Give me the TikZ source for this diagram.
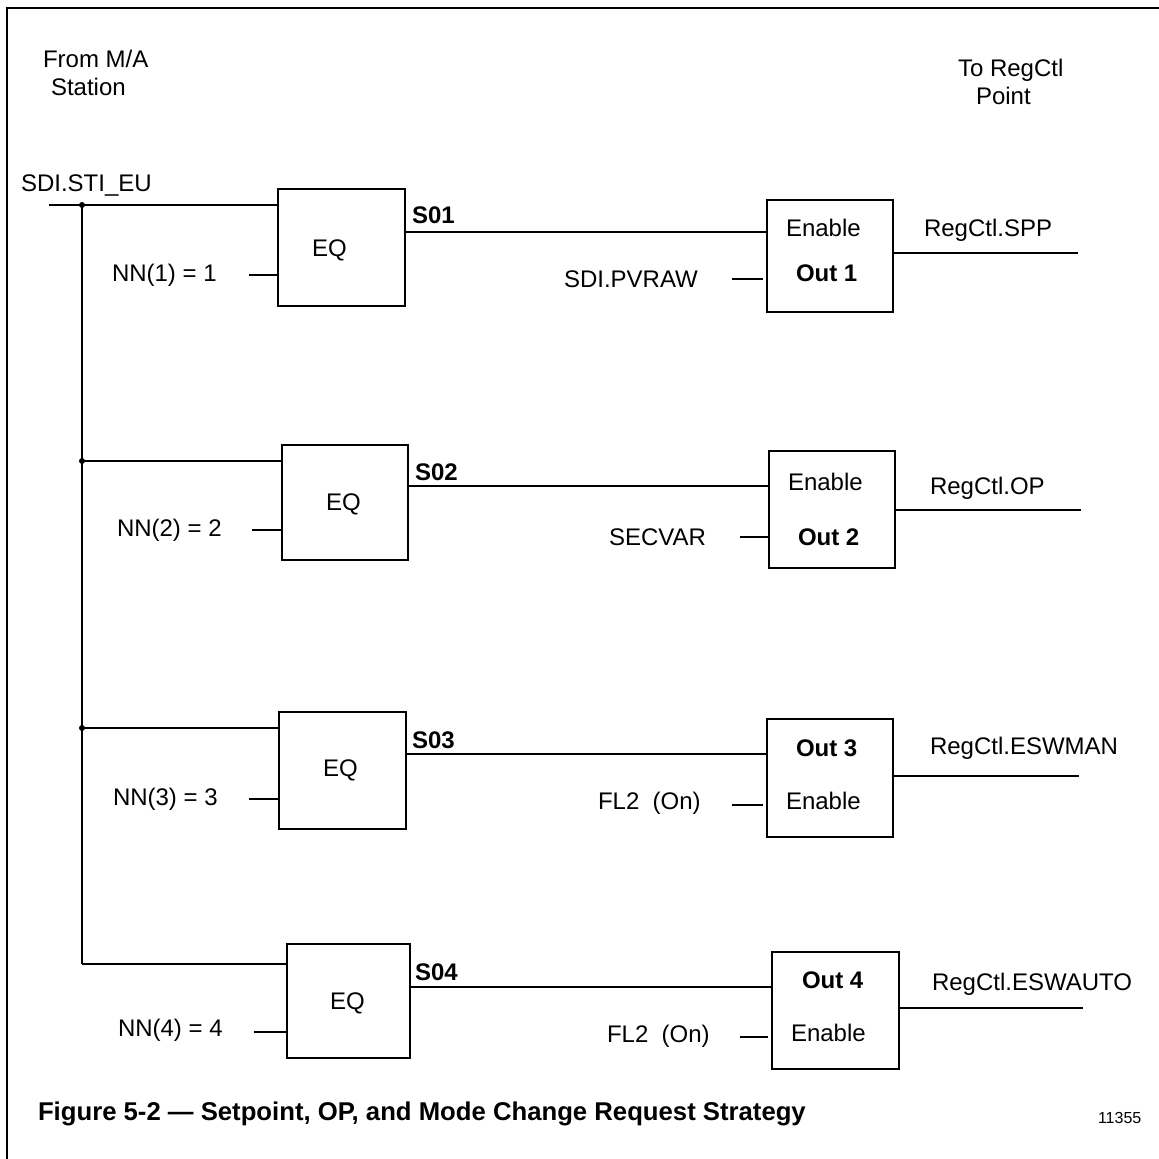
\documentclass[tikz,border=0pt]{standalone}
\usepackage{fontspec}
\setmainfont{Liberation Sans}
\begin{document}
\begin{tikzpicture}[x=1pt,y=-1pt,
  lbl/.style={font=\fontsize{24}{28}\selectfont, anchor=base west, inner sep=0pt, outer sep=0pt},
  blbl/.style={lbl, font=\fontsize{24}{28}\selectfont\bfseries},
  blk/.style={draw, line width=2.5pt, anchor=north west, inner sep=0pt, outer sep=0pt},
  wire/.style={line width=2.5pt},
  frame/.style={line width=2pt}
]
\useasboundingbox (0,0) rectangle (1159,1159);
% frame
\coordinate (fr1) at (1159,8);
\coordinate (fr2) at (7,8);
\coordinate (fr3) at (7,1159);
\draw[frame] (fr1) -- (fr2) -- (fr3);

% header texts
\node[lbl] (from) at (43,67) {From M/A};
\node[lbl] (station) at (51,95) {Station};
\node[lbl] (to) at (958,76) {To RegCtl};
\node[lbl] (point) at (976,104) {Point};
\node[lbl] (sdi) at (21,191) {SDI.STI\_EU};

% blocks
\node[blk, minimum width=127pt, minimum height=117pt] (eq1) at (278,189) {};
\node[blk, minimum width=126pt, minimum height=112pt] (out1) at (767,200) {};
\node[blk, minimum width=126pt, minimum height=115pt] (eq2) at (282,445) {};
\node[blk, minimum width=126pt, minimum height=117pt] (out2) at (769,451) {};
\node[blk, minimum width=127pt, minimum height=117pt] (eq3) at (279,712) {};
\node[blk, minimum width=126pt, minimum height=118pt] (out3) at (767,719) {};
\node[blk, minimum width=123pt, minimum height=114pt] (eq4) at (287,944) {};
\node[blk, minimum width=127pt, minimum height=117pt] (out4) at (772,952) {};

% bus
\coordinate (s0) at (49,205);
\coordinate (j1) at (82,205);
\coordinate (j2) at (82,461);
\coordinate (j3) at (82,728);
\coordinate (j4) at (82,964);
\draw[wire] (s0) -- (s0 -| eq1.west);
\draw[wire] (j1) -- (j4);
\draw[wire] (j2) -- (j2 -| eq2.west);
\draw[wire] (j3) -- (j3 -| eq3.west);
\draw[wire] (j4) -- (j4 -| eq4.west);
\fill (j1) circle (3pt);
\fill (j2) circle (3pt);
\fill (j3) circle (3pt);

% row 1
\coordinate (n1) at (249,275);
\draw[wire] (n1) -- (n1 -| eq1.west);
\coordinate (a1) at (0,232);
\draw[wire] (a1 -| eq1.east) -- (a1 -| out1.west);
\coordinate (i1) at (732,279);
\draw[wire] (i1) -- ([xshift=-4pt]i1 -| out1.west);
\coordinate (o1) at (1078,253);
\draw[wire] (o1 -| out1.east) -- (o1);
\node[lbl] (nn1) at (112,281) {NN(1) = 1};
\node[lbl] (eqt1) at (312,256) {EQ};
\node[blbl] (s01) at (412,223) {S01};
\node[lbl] (pv) at (564,287) {SDI.PVRAW};
\node[lbl] (en1) at (786,236) {Enable};
\node[blbl] (ot1) at (796,281) {Out 1};
\node[lbl] (rg1) at (924,236) {RegCtl.SPP};

% row 2
\coordinate (n2) at (252,530);
\draw[wire] (n2) -- (n2 -| eq2.west);
\coordinate (a2) at (0,486);
\draw[wire] (a2 -| eq2.east) -- (a2 -| out2.west);
\coordinate (i2) at (740,537);
\draw[wire] (i2) -- (i2 -| out2.west);
\coordinate (o2) at (1081,510);
\draw[wire] (o2 -| out2.east) -- (o2);
\node[lbl] (nn2) at (117,536) {NN(2) = 2};
\node[lbl] (eqt2) at (326,510) {EQ};
\node[blbl] (s02) at (415,480) {S02};
\node[lbl] (sec) at (609,545) {SECVAR};
\node[lbl] (en2) at (788,490) {Enable};
\node[blbl] (ot2) at (798,545) {Out 2};
\node[lbl] (rg2) at (930,494) {RegCtl.OP};

% row 3
\coordinate (n3) at (249,799);
\draw[wire] (n3) -- (n3 -| eq3.west);
\coordinate (a3) at (0,754);
\draw[wire] (a3 -| eq3.east) -- (a3 -| out3.west);
\coordinate (i3) at (732,805);
\draw[wire] (i3) -- ([xshift=-4pt]i3 -| out3.west);
\coordinate (o3) at (1079,776);
\draw[wire] (o3 -| out3.east) -- (o3);
\node[lbl] (nn3) at (113,805) {NN(3) = 3};
\node[lbl] (eqt3) at (323,776) {EQ};
\node[blbl] (s03) at (412,748) {S03};
\node[lbl] (fl3) at (598,809) {FL2\ \ (On)};
\node[blbl] (ot3) at (796,756) {Out 3};
\node[lbl] (en3) at (786,809) {Enable};
\node[lbl] (rg3) at (930,754) {RegCtl.ESWMAN};

% row 4
\coordinate (n4) at (254,1032);
\draw[wire] (n4) -- (n4 -| eq4.west);
\coordinate (a4) at (0,987);
\draw[wire] (a4 -| eq4.east) -- (a4 -| out4.west);
\coordinate (i4) at (740,1037);
\draw[wire] (i4) -- ([xshift=-4pt]i4 -| out4.west);
\coordinate (o4) at (1083,1008);
\draw[wire] (o4 -| out4.east) -- (o4);
\node[lbl] (nn4) at (118,1036) {NN(4) = 4};
\node[lbl] (eqt4) at (330,1009) {EQ};
\node[blbl] (s04) at (415,980) {S04};
\node[lbl] (fl4) at (607,1042) {FL2\ \ (On)};
\node[blbl] (ot4) at (802,988) {Out 4};
\node[lbl] (en4) at (791,1041) {Enable};
\node[lbl] (rg4) at (932,990) {RegCtl.ESWAUTO};

% caption
\node[lbl, font=\fontsize{25.7}{30}\selectfont\bfseries] (cap) at (38,1120) {Figure 5-2 — Setpoint, OP, and Mode Change Request Strategy};
\node[lbl, font=\fontsize{16}{19}\selectfont] (num) at (1098,1123) {11355};
\end{tikzpicture}
\end{document}
